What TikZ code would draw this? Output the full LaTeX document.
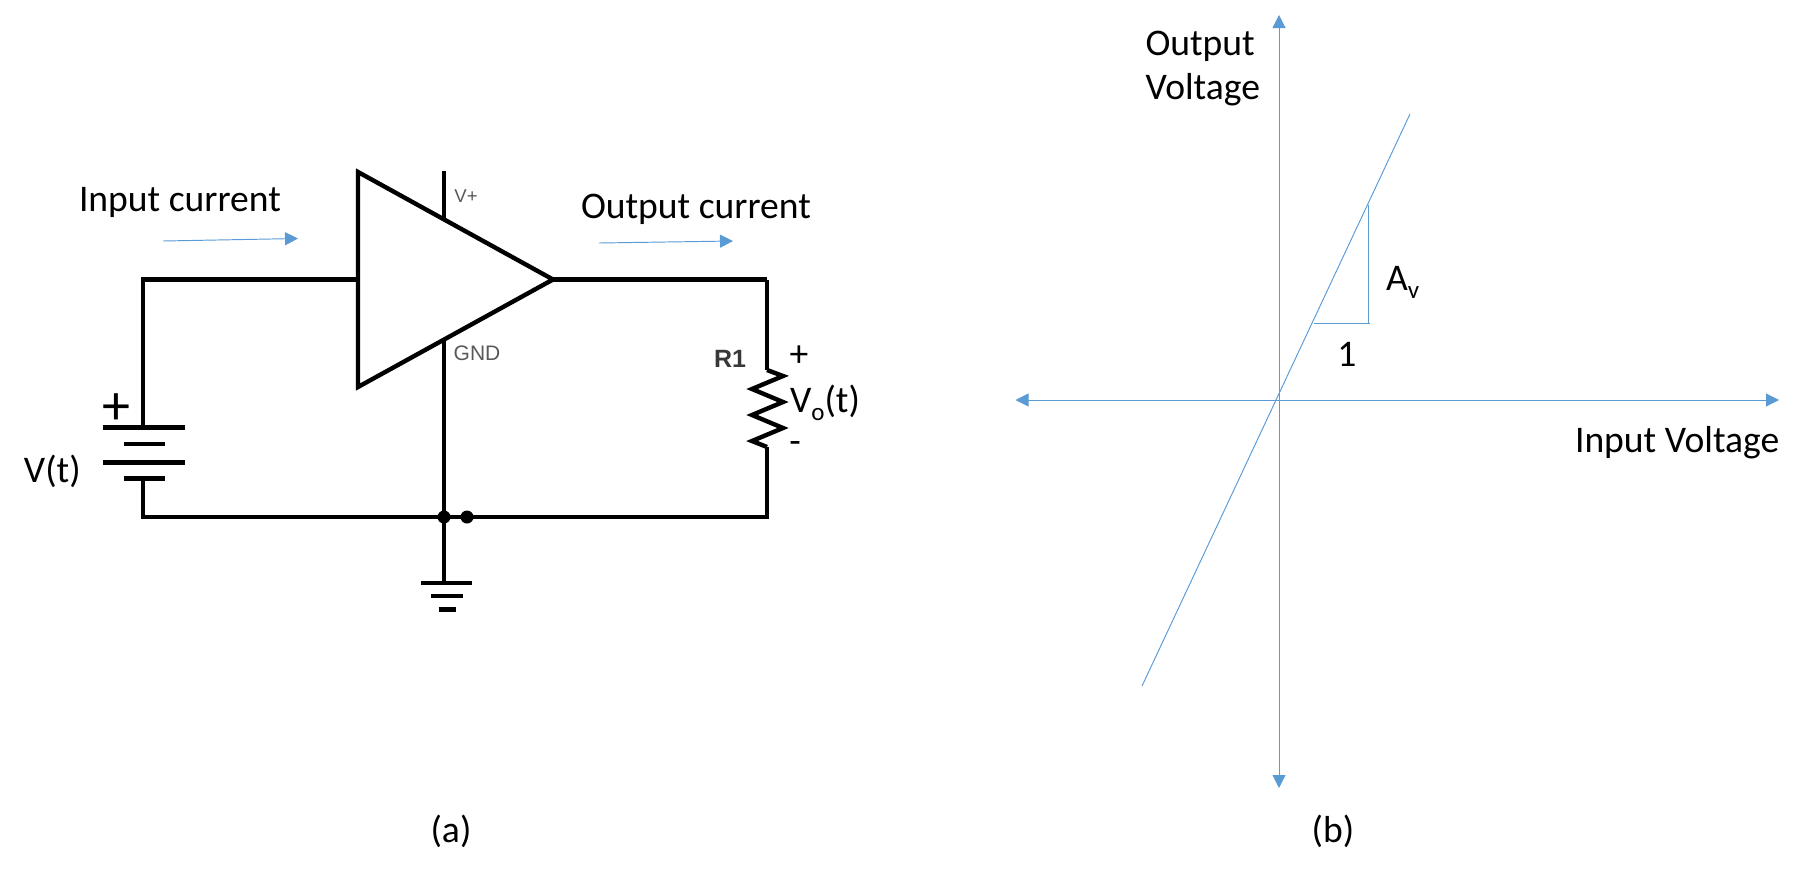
\documentclass[tikz,border=0pt]{standalone}
\usepackage{fontspec}
\setmainfont{Carlito}
\newfontfamily\arialf{Liberation Sans}
\usetikzlibrary{arrows.meta}
\definecolor{officeblue}{HTML}{5B9BD5}
\tikzset{
  wire/.style={line width=2.2pt,black,line cap=butt,line join=miter},
  plate/.style={line width=2.4pt,black},
  blueline/.style={line width=0.48pt,officeblue},
  bluearrow/.style={blueline,-{Triangle[length=6.5pt,width=6.5pt,fill=officeblue]}},
  bluedouble/.style={blueline,{Triangle[length=6.5pt,width=6.5pt,fill=officeblue]}-{Triangle[length=6.5pt,width=6.5pt,fill=officeblue]}},
  lbl/.style={inner sep=0pt,outer sep=0pt,font=\fontsize{18.8pt}{22pt}\selectfont,anchor=base west},
  lblc/.style={lbl,anchor=base},
  chip/.style={inner sep=0pt,outer sep=0pt,text=black!65,anchor=center},
  junction/.style={circle,fill=black,inner sep=0pt,minimum size=6.5pt}
}
\begin{document}
\begin{tikzpicture}[x=0.5pt,y=-0.5pt]
\useasboundingbox (0,0) rectangle (1802,873);
% circuit coordinates
\coordinate (ampTop) at (358,172);
\coordinate (ampBot) at (358,387);
\coordinate (ampOut) at (553,279.5);
\coordinate (ampIn) at (358,279.5);
\coordinate (wireTL) at (143,279.5);
\coordinate (wireTR) at (767,279.5);
\coordinate (wireBL) at (143,517);
\coordinate (wireBR) at (767,517);
\coordinate (batTop) at (143,428);
\coordinate (batBot) at (143,479);
\coordinate (resTop) at (767,370);
\coordinate (resBot) at (767,447);
\coordinate (vpTop) at (444,171);
\coordinate (vpBot) at (444,219);
\coordinate (gndTop) at (444,340);
\coordinate (gndEnd) at (444,583);
% amplifier and wires
\draw[wire] (ampTop) -- (ampOut) -- (ampBot) -- cycle;
\draw[wire] (ampOut) -- (wireTR);
\draw[wire] (batTop) -- (wireTL) -- (ampIn);
\draw[wire] (wireTR) -- (resTop);
\draw[wire] (resTop) -- (783,376) -- (752,389) -- (783,402) -- (752,415) -- (783,428) -- (752,441) -- (resBot);
\draw[wire] (resBot) -- (wireBR) -- (wireBL) -- (batBot);
\draw[wire] (vpTop) -- (vpBot);
\draw[wire] (gndTop) -- (gndEnd);
% battery plates
\draw[plate] (103,427.5) -- (185,427.5);
\draw[plate] (123.5,444) -- (165,444);
\draw[plate] (103,462.5) -- (185,462.5);
\draw[plate] (123.5,478.5) -- (165,478.5);
% ground plates
\draw[plate] (421,583) -- (472,583);
\draw[plate] (431,596) -- (463,596);
\draw[plate] (438.5,609.5) -- (456,609.5);
% junctions
\node[junction] (j1) at (444,517) {};
\node[junction] (j2) at (467,517) {};
% chip labels
\node[chip,font=\arialf\fontsize{9.3pt}{11pt}\selectfont] (vplus) at (466,196) {V+};
\node[chip,font=\arialf\fontsize{10.5pt}{12pt}\selectfont] (gndl) at (477,353) {GND};
\node[inner sep=0pt,text=black!78,font=\arialf\bfseries\fontsize{12.5pt}{14pt}\selectfont] (r1) at (730,359) {R1};
% circuit labels
\node[lbl] (inc) at (79,211.5) {Input current};
\node[lbl] (outc) at (581,218) {Output current};
\node[lbl] (vt) at (24,482.5) {V(t)};
\node[lblc,font=\fontsize{28pt}{30pt}\selectfont] (batp) at (116.5,424) {+};
\node[lblc] (plus) at (799,366) {+};
\node[lblc] (minus) at (795,453) {-};
\node[lbl] (vo) at (790,412) {V\raisebox{-0.22em}{\fontsize{12.5pt}{14pt}\selectfont o}(t)};
\node[lblc] (capa) at (451,842) {(a)};
\node[lblc] (capb) at (1333,842) {(b)};
% current arrows
\coordinate (iaS) at (163,241);
\coordinate (iaE) at (298,238.5);
\coordinate (oaS) at (599,243);
\coordinate (oaE) at (733,241);
\draw[bluearrow] (iaS) -- (iaE);
\draw[bluearrow] (oaS) -- (oaE);
% graph
\coordinate (yTop) at (1279,15);
\coordinate (yBot) at (1279,788);
\coordinate (xL) at (1015.5,400);
\coordinate (xR) at (1779,400);
\coordinate (dS) at (1142,686);
\coordinate (dE) at (1410,114);
\coordinate (t1) at (1368.5,204.5);
\coordinate (t2) at (1368.5,323.5);
\coordinate (t3) at (1313.5,323.5);
\coordinate (t4) at (1369.5,323.5);
\draw[bluedouble] (yBot) -- (yTop);
\draw[bluedouble] (xL) -- (xR);
\draw[blueline] (dS) -- (dE);
\draw[blueline] (t1) -- (t2);
\draw[blueline] (t3) -- (t4);
\node[lbl] (outv) at (1145.5,55) {Output};
\node[lbl] (voltv) at (1145.5,99) {Voltage};
\node[lbl] (inv) at (1575,452) {Input Voltage};
\node[lblc] (one) at (1347,366.5) {1};
\node[lbl] (av) at (1386,290.5) {A\raisebox{-0.22em}{\fontsize{12.5pt}{14pt}\selectfont v}};
\end{tikzpicture}
\end{document}
